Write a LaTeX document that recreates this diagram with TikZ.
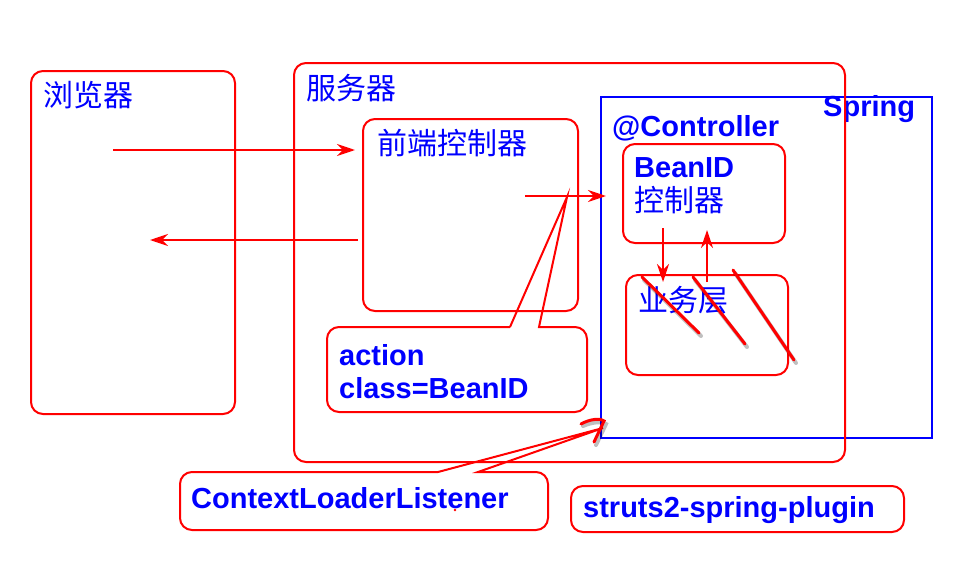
\documentclass[tikz,border=0pt]{standalone}
\usepackage{fontspec}
\setmainfont{Liberation Sans}
\newfontfamily\cjk{Noto Sans CJK SC}
\usepackage{tikz}
\usetikzlibrary{calc,arrows.meta,positioning}
\tikzset{
    caja/.style={draw=red,line width=2pt,rounded corners=12pt,inner sep=0pt,anchor=north west},
    marco/.style={draw=blue,line width=2pt,inner sep=0pt,anchor=north west},
    texto/.style={text=blue,anchor=west,inner sep=0pt,font=\cjk\fontsize{30}{32}\selectfont},
    titulo/.style={text=blue,anchor=west,inner sep=0pt,font=\bfseries\fontsize{29}{32}\selectfont},
    flecha/.style={draw=red,line width=2pt,-{Stealth[length=18pt,width=12pt]}},
    globo/.style={draw=red,line width=2pt},
    tachado/.style={draw=red,line width=3pt,line cap=round},
    sombra/.style={draw=black,line width=4pt,line cap=round,opacity=0.25},
}
\begin{document}
\begin{tikzpicture}[x=1pt,y=-1pt]
    \useasboundingbox (0,0) rectangle (954,562);

    \node [marco,minimum width=331pt,minimum height=341pt] (spring) at (600,96) {};
    \node [titulo] (lspring) at (823,109) {Spring};

    \node [caja,minimum width=204pt,minimum height=343pt] (nav) at (30,70) {};
    \node [caja,minimum width=551pt,minimum height=399pt] (serv) at (293,62) {};
    \node [caja,minimum width=215pt,minimum height=192pt] (front) at (362,118) {};
    \node [caja,minimum width=162pt,minimum height=99pt] (ctrl) at (622,143) {};
    \node [caja,minimum width=162pt,minimum height=100pt] (biz) at (625,274) {};
    \node [caja,minimum width=333pt,minimum height=46pt] (plugin) at (570,485) {};

    \node [texto] (lnav) at (43,95) {浏览器};
    \node [texto] (lserv) at (306,88) {服务器};
    \node [texto] (lfront) at (377,143) {前端控制器};
    \node [titulo] (lcontroller) at (612,128) {@Controller};
    \node [titulo] (lbean) at (634,168) {BeanID};
    \node [texto,below=8pt of lbean.south west,anchor=north west] (lctrl) {控制器};
    \node [texto] (lbiz) at (638,300) {业务层};
    \node [titulo] (laccion) at (339,355) {action};
    \node [titulo,below=11pt of laccion.south west,anchor=north west] (lclase) {class=BeanID};
    \node [titulo] (llistener) at (191,498) {ContextLoaderListener};
    \node [titulo] (lplugin) at (583,510) {struts2-spring-plugin};

    \coordinate (pide) at (113,150);
    \coordinate (vuelve) at (358,240);
    \coordinate (reenvia) at (525,196);
    \coordinate (baja) at (663,228);
    \coordinate (sube) at (707,282);
    \path [flecha] (pide) -- ([xshift=-7pt]front.west |- pide);
    \path [flecha] (vuelve) -- (150,240);
    \path [flecha] (reenvia) -- ([xshift=6pt]spring.west |- reenvia);
    \path [flecha] (baja) -- ([yshift=-8pt]biz.north -| baja);
    \path [flecha] (sube) -- ([yshift=14pt]ctrl.south -| sube);

    % globos
    \coordinate (punta) at (567,197);
    \draw [globo] (510,327) -- (punta) -- (539,327) [rounded corners=12pt] -- (587,327)
        -- (587,412) -- (327,412) -- (327,327) [sharp corners] -- (510,327);
    \coordinate (punta2) at (603,428);
    \draw [globo] (438,472) -- (punta2) -- (478,472) [rounded corners=12pt] -- (548,472)
        -- (548,530) -- (180,530) -- (180,472) [sharp corners] -- (438,472);

    % trazos a mano
    \draw [sombra] (583,426) .. controls (592,422) and (602,421) .. (606,424) -- (596,445);
    \draw [tachado] (581,424) .. controls (590,419) and (600,418) .. (604,421) -- (594,442);
    \foreach \a/\b/\c/\d in {642/277/699/333, 693/277/745/344, 733/270/794/360} {
        \draw [sombra] (\a+2,\b+3) -- (\c+2,\d+3);
        \draw [tachado] (\a,\b) -- (\c,\d);
    }
    \fill [red] (455,510) circle (1.3pt);
\end{tikzpicture}
\end{document}
